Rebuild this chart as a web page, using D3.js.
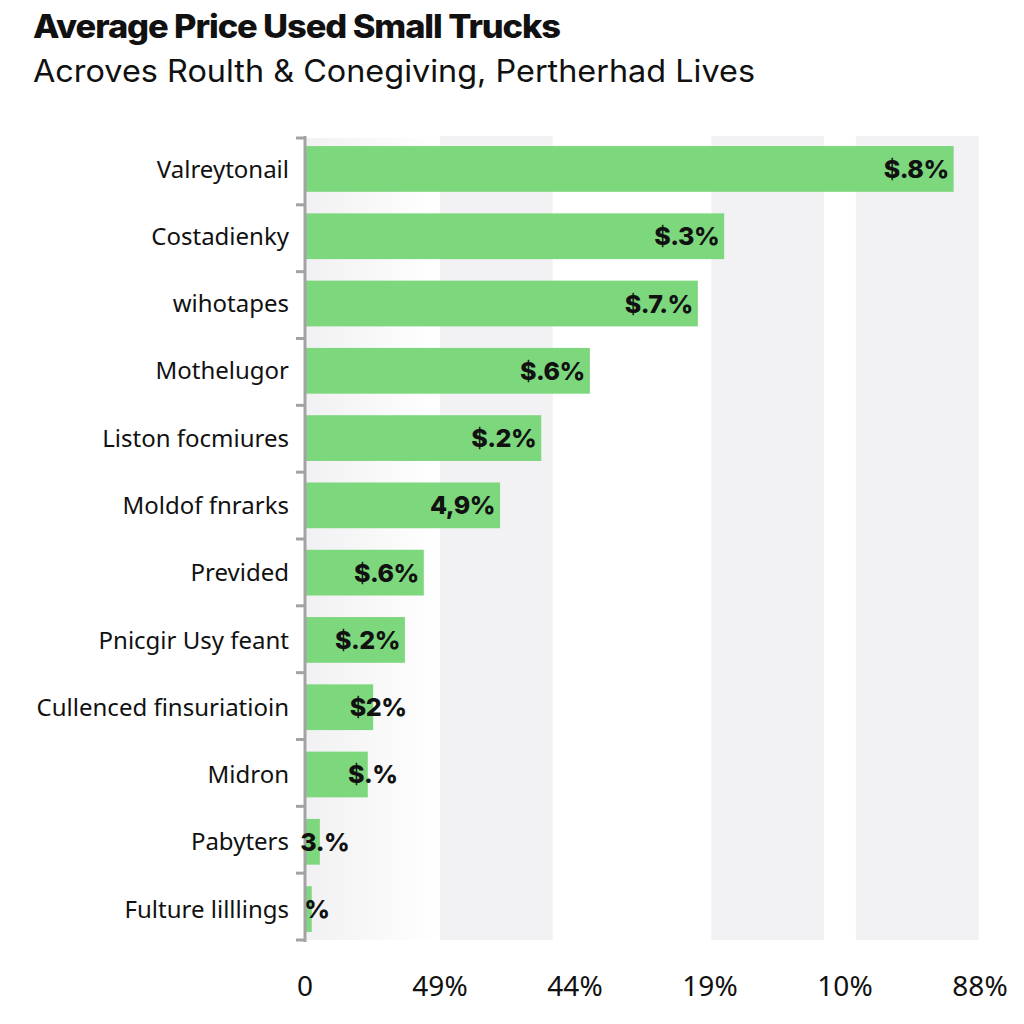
<!DOCTYPE html>
<html>
<head>
<meta charset="utf-8">
<script src="https://cdn.jsdelivr.net/npm/d3@7"></script>
<style>
  html, body { margin: 0; padding: 0; background: #ffffff; }
  svg { display: block; }
</style>
</head>
<body>
<svg id="chart" width="1024" height="1024"></svg>
<script>
const title = "Average Price Used Small Trucks";
const subtitle = "Acroves Roulth & Conegiving, Pertherhad Lives";
const categories = ["Valreytonail","Costadienky","wihotapes","Mothelugor","Liston focmiures","Moldof fnrarks","Previded","Pnicgir Usy feant","Cullenced finsuriatioin","Midron","Pabyters","Fulture lilllings"];
const values = [96.1, 62.1, 58.2, 42.2, 35.0, 28.9, 17.6, 14.8, 10.1, 9.3, 2.2, 1.0];
const valueLabels = ["$.8%","$.3%","$.7.%","$.6%","$.2%","4,9%","$.6%","$.2%","$2%","$.%","3.%","%"];
const tickValues = [0, 20, 40, 60, 80, 100];
const tickLabels = ["0","49%","44%","19%","10%","88%"];
const bands = [[20, 36.7], [60.2, 76.9], [81.6, 99.8]];

const svg = d3.select("#chart");
const plotLeft = 305, plotRight = 980, plotTop = 138, plotBottom = 940;

const x = d3.scaleLinear().domain([0, 100]).range([plotLeft, plotRight]);
const y = d3.scaleBand().domain(categories).range([plotTop, plotBottom]).paddingInner(0.32).paddingOuter(0.12);

// soft gradient near axis
const defs = svg.append("defs");
const g1 = defs.append("linearGradient").attr("id", "fade").attr("x1", 0).attr("x2", 1);
g1.append("stop").attr("offset", 0).attr("stop-color", "#f1f1f3");
g1.append("stop").attr("offset", 1).attr("stop-color", "#ffffff");
svg.append("rect").attr("x", plotLeft).attr("y", plotTop).attr("width", x(20) - plotLeft).attr("height", plotBottom - plotTop).attr("fill", "url(#fade)");

// background bands
svg.append("g").selectAll("rect").data(bands).join("rect")
  .attr("x", d => x(d[0])).attr("width", d => x(d[1]) - x(d[0]))
  .attr("y", plotTop - 2).attr("height", plotBottom - plotTop + 2)
  .attr("fill", "#f2f2f4");

// title
svg.append("text").attr("x", 33).attr("y", 38).text(title)
  .attr("font-family", "Inter, 'Noto Sans', sans-serif").attr("font-weight", 800)
  .attr("font-size", 32).attr("fill", "#111").attr("letter-spacing", -1)
  .attr("textLength", 527).attr("lengthAdjust", "spacingAndGlyphs");
svg.append("text").attr("x", 33).attr("y", 82).text(subtitle)
  .attr("font-family", "Inter, 'Noto Sans', sans-serif").attr("font-weight", 400)
  .attr("font-size", 31).attr("fill", "#111")
  .attr("textLength", 722).attr("lengthAdjust", "spacingAndGlyphs");

// bars
svg.append("g").selectAll("rect").data(values).join("rect")
  .attr("x", x(0)).attr("y", (d, i) => y(categories[i]))
  .attr("width", d => x(d) - x(0)).attr("height", y.bandwidth())
  .attr("fill", "#7dd77d");

// y axis line and ticks
const step = (plotBottom - plotTop) / categories.length;
svg.append("line").attr("x1", plotLeft).attr("x2", plotLeft).attr("y1", plotTop - 2).attr("y2", plotBottom + 2)
  .attr("stroke", "#a3a3a3").attr("stroke-width", 3);
svg.append("g").selectAll("line").data(d3.range(categories.length + 1)).join("line")
  .attr("x1", plotLeft - 9).attr("x2", plotLeft).attr("y1", i => plotTop + i * step).attr("y2", i => plotTop + i * step)
  .attr("stroke", "#a3a3a3").attr("stroke-width", 3);

// category labels
svg.append("g").selectAll("text").data(categories).join("text")
  .attr("x", plotLeft - 16).attr("y", d => y(d) + y.bandwidth() / 2)
  .attr("dy", "0.36em").attr("text-anchor", "end")
  .attr("font-family", "'Noto Sans', sans-serif").attr("font-size", 24).attr("fill", "#111")
  .text(d => d);

// value labels
const vl = svg.append("g").selectAll("text").data(values).join("text")
  .attr("y", (d, i) => y(categories[i]) + y.bandwidth() / 2)
  .attr("dy", "0.36em")
  .attr("font-family", "Inter, 'Noto Sans', sans-serif").attr("font-weight", 800)
  .attr("font-size", 25).attr("fill", "#111").attr("letter-spacing", -0.5)
  .text((d, i) => valueLabels[i]);
vl.each(function(d) {
  const w = this.getComputedTextLength();
  const end = x(d);
  if (end - x(0) > w + 20) {
    d3.select(this).attr("x", end - 5).attr("text-anchor", "end");
  } else {
    d3.select(this).attr("x", end + 5).attr("text-anchor", "middle");
  }
});

// x tick labels
svg.append("g").selectAll("text").data(tickValues).join("text")
  .attr("x", d => x(d)).attr("y", 996).attr("text-anchor", "middle")
  .attr("font-family", "'Noto Sans', sans-serif").attr("font-size", 28).attr("fill", "#111")
  .text((d, i) => tickLabels[i]);
</script>
</body>
</html>
